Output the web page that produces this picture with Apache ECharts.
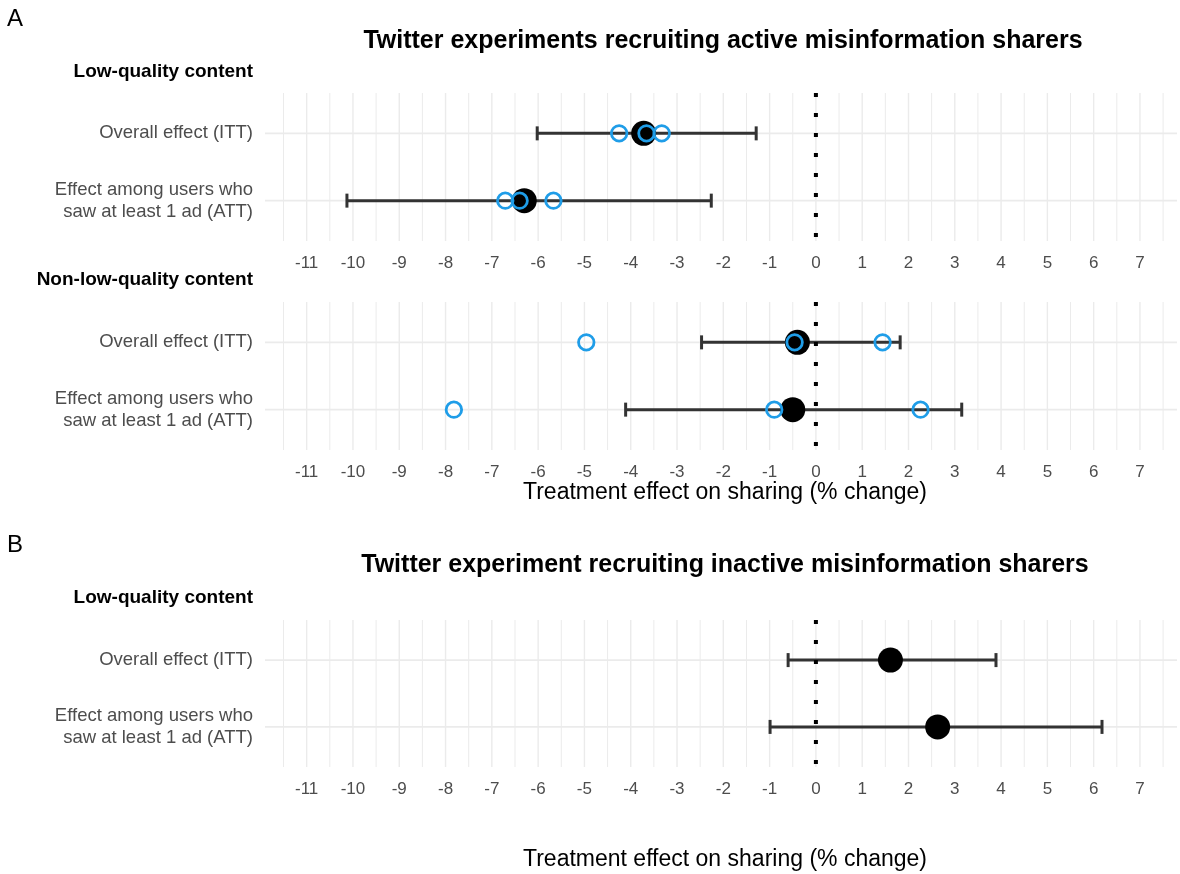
<!DOCTYPE html>
<html>
<head>
<meta charset="utf-8">
<script src="https://cdn.jsdelivr.net/npm/echarts@6/dist/echarts.min.js"></script>
<style>
  html, body { margin: 0; padding: 0; background: #fff; }
  #chart { width: 1180px; height: 874px; }
</style>
</head>
<body>
<div id="chart"></div>
<script>
// ---------- data ----------
const rowLabels = ['Overall effect (ITT)', 'Effect among users who\nsaw at least 1 ad (ATT)'];
const rowPos = [1, 2];

// Panel A, low-quality content
const aLowEst = [-3.72, -6.30];
const aLowLo  = [-6.02, -10.13];
const aLowHi  = [-1.29, -2.26];
const aLowBlueITT = [-4.25, -3.66, -3.33];
const aLowBlueATT = [-6.71, -6.40, -5.67];

// Panel A, non-low-quality content
const aNonEst = [-0.40, -0.50];
const aNonLo  = [-2.47, -4.11];
const aNonHi  = [1.82, 3.15];
const aNonBlueITT = [-4.96, -0.46, 1.44];
const aNonBlueATT = [-7.82, -0.90, 2.26];

// Panel B, low-quality content
const bLowEst = [1.61, 2.63];
const bLowLo  = [-0.60, -0.99];
const bLowHi  = [3.89, 6.18];

// axis ticks
const majorTicks = [-11, -10, -9, -8, -7, -6, -5, -4, -3, -2, -1, 0, 1, 2, 3, 4, 5, 6, 7];
const minorTicks = [-11.5, -10.5, -9.5, -8.5, -7.5, -6.5, -5.5, -4.5, -3.5, -2.5, -1.5, -0.5, 0.5, 1.5, 2.5, 3.5, 4.5, 5.5, 6.5, 7.5];

const xMin = -11.9, xMax = 7.8, yMin = 0.4, yMax = 2.6;
const FONT = '"Liberation Sans", Arial, Helvetica, sans-serif';
const GRID_COLOR = '#ebebeb';
const BLUE = '#1f9de8';

// ---------- build ----------
const chart = echarts.init(document.getElementById('chart'), null, { renderer: 'canvas' });

const grids = [
  { left: 265, right: 0, top: 93, height: 148 },
  { left: 265, right: 0, top: 302, height: 148 },
  { left: 265, right: 0, top: 620, height: 147 }
];

function isInt(v) { return Math.abs(v - Math.round(v)) < 1e-6; }

const xAxes = grids.map((g, i) => ({
  type: 'value', gridIndex: i, min: xMin, max: xMax, interval: 0.1,
  axisLine: { show: false }, axisTick: { show: false }, splitLine: { show: false },
  axisLabel: {
    color: '#4d4d4d', fontSize: 17, fontFamily: FONT, margin: 14,
    formatter: v => (isInt(v) && majorTicks.indexOf(Math.round(v)) >= 0) ? String(Math.round(v)) : ''
  }
}));

const yAxes = grids.map((g, i) => ({
  type: 'value', gridIndex: i, min: yMin, max: yMax, interval: 0.2, inverse: true,
  axisLine: { show: false }, axisTick: { show: false }, splitLine: { show: false },
  axisLabel: {
    color: '#4d4d4d', fontSize: 18.5, lineHeight: 22, fontFamily: FONT, margin: 12,
    formatter: v => {
      for (let k = 0; k < rowPos.length; k++) if (Math.abs(v - rowPos[k]) < 1e-6) return rowLabels[k];
      return '';
    }
  }
}));

function gridSeries(i) {
  const vData = majorTicks.map(t => [t, 1.4]).concat(minorTicks.map(t => [t, 1.0]));
  return [
    {
      type: 'custom', xAxisIndex: i, yAxisIndex: i, silent: true, z: 1,
      data: vData,
      renderItem: (params, api) => {
        const v = api.value(0);
        const a = api.coord([v, yMin]), b = api.coord([v, yMax]);
        return { type: 'line', shape: { x1: a[0], y1: a[1], x2: b[0], y2: b[1] },
                 style: { stroke: GRID_COLOR, lineWidth: api.value(1) } };
      }
    },
    {
      type: 'custom', xAxisIndex: i, yAxisIndex: i, silent: true, z: 1,
      data: rowPos.map(r => [0, r]),
      renderItem: (params, api) => {
        const r = api.value(1);
        const a = api.coord([xMin, r]), b = api.coord([xMax, r]);
        return { type: 'line', shape: { x1: a[0], y1: a[1], x2: b[0], y2: b[1] },
                 style: { stroke: GRID_COLOR, lineWidth: 1.8 } };
      }
    }
  ];
}

function zeroSeries(i) {
  return {
    type: 'custom', xAxisIndex: i, yAxisIndex: i, silent: true, z: 4,
    data: [[0, 1]],
    renderItem: (params, api) => {
      const a = api.coord([api.value(0), yMin]), b = api.coord([api.value(0), yMax]);
      return { type: 'line', shape: { x1: a[0], y1: a[1], x2: b[0], y2: b[1] },
               style: { stroke: '#000', lineWidth: 4, lineDash: [4, 16], lineCap: 'butt' } };
    }
  };
}

function errSeries(i, lo, hi) {
  return {
    type: 'custom', xAxisIndex: i, yAxisIndex: i, silent: true, z: 3,
    data: rowPos.map((r, k) => [lo[k], hi[k], r]),
    encode: { x: [0, 1], y: 2 },
    renderItem: (params, api) => {
      const r = api.value(2);
      const p1 = api.coord([api.value(0), r]), p2 = api.coord([api.value(1), r]);
      const h = 7;
      const st = { stroke: '#333333', lineWidth: 3 };
      return { type: 'group', children: [
        { type: 'line', shape: { x1: p1[0], y1: p1[1], x2: p2[0], y2: p2[1] }, style: st },
        { type: 'line', shape: { x1: p1[0], y1: p1[1] - h, x2: p1[0], y2: p1[1] + h }, style: st },
        { type: 'line', shape: { x1: p2[0], y1: p2[1] - h, x2: p2[0], y2: p2[1] + h }, style: st }
      ] };
    }
  };
}

function estSeries(i, est) {
  return {
    type: 'scatter', xAxisIndex: i, yAxisIndex: i, silent: true, z: 5,
    symbol: 'circle', symbolSize: 25,
    itemStyle: { color: '#000', opacity: 1 },
    data: rowPos.map((r, k) => [est[k], r])
  };
}

function blueSeries(i, itt, att) {
  const d = itt.map(v => [v, rowPos[0]]).concat(att.map(v => [v, rowPos[1]]));
  return {
    type: 'scatter', xAxisIndex: i, yAxisIndex: i, silent: true, z: 6,
    symbol: 'circle', symbolSize: 15.5,
    itemStyle: { color: 'rgba(0,0,0,0)', borderColor: BLUE, borderWidth: 2.8, opacity: 1 },
    data: d
  };
}

const series = []
  .concat(gridSeries(0), gridSeries(1), gridSeries(2))
  .concat([
    zeroSeries(0), zeroSeries(1), zeroSeries(2),
    errSeries(0, aLowLo, aLowHi), errSeries(1, aNonLo, aNonHi), errSeries(2, bLowLo, bLowHi),
    estSeries(0, aLowEst), estSeries(1, aNonEst), estSeries(2, bLowEst),
    blueSeries(0, aLowBlueITT, aLowBlueATT), blueSeries(1, aNonBlueITT, aNonBlueATT)
  ]);

function txt(x, y, text, size, weight, align, color) {
  return { type: 'text', x: x, y: y, silent: true,
           style: { text: text, fontSize: size, fontWeight: weight, fontFamily: FONT,
                    fill: color || '#000', textAlign: align, textVerticalAlign: 'middle' } };
}

const graphics = [
  txt(7, 19, 'A', 24, 'normal', 'left'),
  txt(7, 545, 'B', 24, 'normal', 'left'),
  txt(723, 41, 'Twitter experiments recruiting active misinformation sharers', 25, 'bold', 'center'),
  txt(725, 565, 'Twitter experiment recruiting inactive misinformation sharers', 25, 'bold', 'center'),
  txt(253, 72, 'Low-quality content', 19, 'bold', 'right'),
  txt(253, 280, 'Non-low-quality content', 19, 'bold', 'right'),
  txt(253, 598, 'Low-quality content', 19, 'bold', 'right'),
  txt(725, 493, 'Treatment effect on sharing (% change)', 23, 'normal', 'center'),
  txt(725, 860, 'Treatment effect on sharing (% change)', 23, 'normal', 'center')
];

chart.setOption({
  animation: false,
  backgroundColor: '#ffffff',
  grid: grids,
  xAxis: xAxes,
  yAxis: yAxes,
  series: series,
  graphic: graphics
});
</script>
</body>
</html>
